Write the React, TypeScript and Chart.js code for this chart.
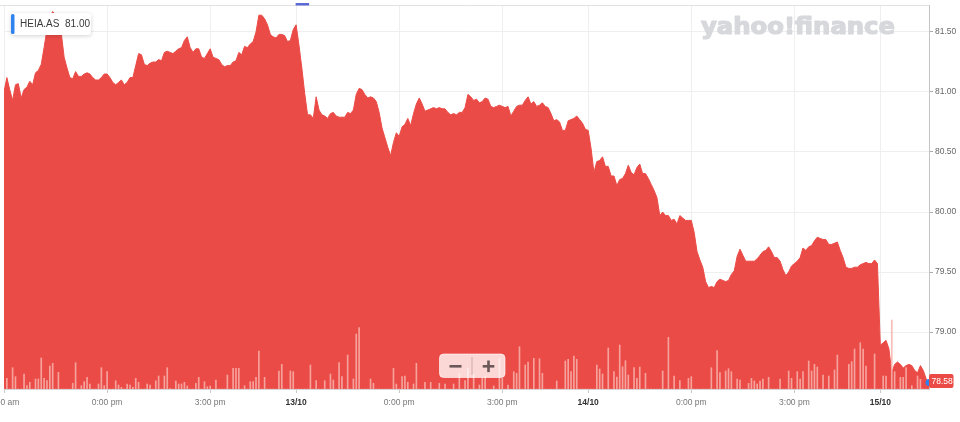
import { useEffect, useRef } from "react";
import { Chart, registerables } from "chart.js";

Chart.register(...registerables);

// ---- data ----
const SYMBOL = "HEIA.AS";
const SYMBOL_VALUE = "81.00";
const LAST_LABEL = "78.58";
const INTERVAL_MIN = 5; // 5-minute bars, trading time 9:00-17:30

const priceDay1 = [
  81.0, 81.12, 81.02, 80.93, 81.06, 81.07, 80.95, 81.02, 81.04, 81.09,
  81.06, 81.16, 81.18, 81.23, 81.37, 81.52, 81.62, 81.67, 81.64, 81.58,
  81.49, 81.29, 81.2, 81.12, 81.11, 81.17, 81.13, 81.13, 81.15, 81.16,
  81.15, 81.12, 81.1, 81.1, 81.12, 81.15, 81.15, 81.12, 81.08, 81.06,
  81.08, 81.1, 81.06, 81.08, 81.12, 81.12, 81.22, 81.32, 81.31, 81.23,
  81.22, 81.24, 81.25, 81.25, 81.27, 81.26, 81.33, 81.34, 81.33, 81.32,
  81.34, 81.36, 81.37, 81.43, 81.46, 81.37, 81.33, 81.36, 81.36, 81.29,
  81.28, 81.32, 81.36, 81.29, 81.28, 81.27, 81.23, 81.21, 81.22, 81.22,
  81.25, 81.26, 81.33, 81.31, 81.38, 81.37, 81.4, 81.42, 81.5, 81.64,
  81.64, 81.61, 81.56, 81.48, 81.46, 81.45, 81.48, 81.48, 81.47, 81.42,
  81.43, 81.52,
];
const priceDay2 = [
  81.56, 81.39, 81.2, 80.99, 80.81, 80.81, 80.78, 80.96, 80.85, 80.81,
  80.8, 80.78, 80.82, 80.83, 80.8, 80.79, 80.79, 80.79, 80.83, 80.82,
  80.85, 80.98, 81.03, 81.02, 80.98, 80.95, 80.96, 80.95, 80.92, 80.83,
  80.7, 80.62, 80.54, 80.47, 80.58, 80.66, 80.63, 80.71, 80.73, 80.78,
  80.72, 80.82, 80.9, 80.95, 80.9, 80.84, 80.85, 80.86, 80.87, 80.86,
  80.87, 80.86, 80.86, 80.83, 80.81, 80.82, 80.81, 80.83, 80.83, 80.87,
  80.98, 80.96, 80.93, 80.94, 80.91, 80.92, 80.95, 80.94, 80.88, 80.87,
  80.88, 80.89, 80.88, 80.87, 80.88, 80.8, 80.84, 80.88, 80.89, 80.89,
  80.93, 80.96, 80.9, 80.92, 80.88, 80.89, 80.91, 80.88, 80.87, 80.82,
  80.76, 80.77, 80.75, 80.68, 80.68, 80.76, 80.77, 80.78, 80.8, 80.77,
  80.74, 80.69,
];
const priceDay3 = [
  80.68, 80.53, 80.33, 80.42, 80.43, 80.46, 80.38, 80.38, 80.3, 80.3,
  80.22, 80.27, 80.28, 80.32, 80.39, 80.33, 80.31, 80.37, 80.4, 80.32,
  80.32, 80.28, 80.23, 80.18, 80.12, 79.97, 80.0, 79.97, 79.97, 79.93,
  79.94, 79.9, 79.97, 79.95, 79.93, 79.93, 79.93, 79.83, 79.67, 79.6,
  79.54, 79.42, 79.37, 79.38, 79.37, 79.42, 79.44, 79.43, 79.42, 79.43,
  79.48, 79.51, 79.63, 79.69, 79.64, 79.59, 79.59, 79.59, 79.59, 79.61,
  79.64, 79.67, 79.68, 79.71, 79.67, 79.62, 79.62, 79.59, 79.52, 79.47,
  79.5, 79.55, 79.57, 79.59, 79.62, 79.7, 79.68, 79.71, 79.72, 79.76,
  79.79, 79.78, 79.77, 79.77, 79.73, 79.73, 79.74, 79.75, 79.68, 79.62,
  79.54, 79.53, 79.53, 79.54, 79.54, 79.56, 79.57, 79.58, 79.57, 79.57,
  79.6, 79.57,
];
const priceDay4 = [
  78.89, 78.91, 78.93, 78.86, 78.66, 78.73, 78.75, 78.73, 78.7, 78.72,
  78.73, 78.72, 78.68, 78.66, 78.72, 78.68, 78.61, 78.58,
];

// volume in thousands of shares, one per 5-minute bar
const volumeK = [
  0, 10.7, 0, 21.3, 12.3, 0, 0, 15, 3.3, 6.7,
  0, 10, 10, 31, 10.7, 8.3, 23, 25.7, 0, 16.7,
  0, 0, 0, 0, 5.7, 26.3, 0, 3.3, 7.3, 11.7,
  5, 0, 0, 5, 21.3, 3.3, 17.3, 0, 0, 8.3,
  4, 1.7, 0, 5, 4, 1.7, 10.7, 6.7, 0, 0,
  5, 4, 0, 8.3, 13, 0, 13, 21.3, 0.5, 0,
  8, 5, 5, 6.7, 3, 0, 0, 5.7, 11.7, 0,
  7.3, 2.3, 3, 0, 9, 0, 0, 0, 14, 0,
  20.7, 20.7, 20.7, 0, 3.3, 0, 7.3, 7.3, 11.7, 38,
  0, 11.7, 0, 0, 0, 0, 18, 24.7, 0, 0,
  18, 17.3, 0, 0, 0, 0, 0, 24, 0, 8.3,
  0, 0, 8.3, 0, 15, 9, 0, 26.3, 12.3, 0,
  34, 0, 10, 55, 61.3, 0, 0, 0, 10, 5.7,
  0, 0, 0, 0, 0, 0, 20.7, 5, 0, 12.3,
  13, 6.7, 0, 5, 25.7, 0, 0, 6.7, 0, 6.7,
  0, 0, 5.7, 0, 5, 0, 0, 5, 0, 15.7,
  0, 8.3, 20.7, 0, 15, 0, 4, 10.7, 13, 0,
  0, 3, 0, 30.7, 10.7, 0, 4, 0, 17.3, 15.7,
  42.3, 0, 24, 27, 0, 30.7, 0, 30.3, 15.7, 0,
  0, 0, 0, 8, 0, 0, 28, 29.7, 17.3, 33,
  29.7, 0, 0, 0, 0, 0, 0, 24, 20, 15,
  0, 41, 0, 17.3, 12, 44, 22.3, 28.3, 14, 0,
  21.3, 10.7, 22, 0, 15.7, 0, 0, 0, 0, 0,
  18, 0, 51.7, 0, 13, 0, 8.3, 0, 0, 10.7,
  12.3, 0, 0, 0, 0, 0, 0, 21.3, 0, 38.3,
  16.3, 0, 18, 20.3, 17.3, 0, 10, 9, 0, 0,
  5.7, 10.7, 8, 5, 8, 10, 0, 11.7, 0, 0,
  0, 10, 0, 0, 18, 10.7, 0, 17.3, 10, 17.3,
  0, 28, 18, 24.7, 22, 0, 14, 0, 13, 0,
  19, 34, 0, 0, 0, 24.7, 27.3, 40, 0, 46.3,
  40, 23, 0, 0, 35, 0, 0, 13, 13, 0,
  69, 17.3, 0, 11.7, 11.7, 21.3, 0, 3.3, 0, 13,
  9.7, 0, 0, 0,
];

const xTickMinutes = [0, 180, 360, 510, 690, 870, 1020, 1200, 1380, 1530];
const xTickLabels = ["9:00 am", "0:00 pm", "3:00 pm", "13/10", "0:00 pm", "3:00 pm", "14/10", "0:00 pm", "3:00 pm", "15/10"];
const xTickIsDay = [false, false, false, true, false, false, true, false, false, true];
const yTicks = [79, 79.5, 80, 80.5, 81, 81.5];
const Y_MIN = 78.525;
const Y_MAX = 81.725;
const VOL_MAX = 384;
const EVENT_MINUTE = 510;

const FONT = '"Liberation Sans", Arial, Helvetica, sans-serif';
const RED = "#eb4b46";

export default function App() {
  const ref = useRef<HTMLCanvasElement | null>(null);

  useEffect(() => {
    const canvas = ref.current;
    if (!canvas) return;
    Chart.defaults.font.family = FONT;

    const prices = [...priceDay1, ...priceDay2, ...priceDay3, ...priceDay4];
    const pricePts = prices.map((p, i) => ({ x: i * INTERVAL_MIN, y: p }));
    const volPts = volumeK.map((v, i) => ({ x: i * INTERVAL_MIN, y: v }));
    const lastIdx = prices.length - 1;
    const lastMin = lastIdx * INTERVAL_MIN;
    const lastPrice = prices[lastIdx];

    const decor = {
      id: "decor",
      beforeDatasetsDraw(chart: any) {
        const { ctx } = chart;
        // watermark
        ctx.save();
        ctx.fillStyle = "#d6d8dc";
        ctx.strokeStyle = "#d6d8dc";
        ctx.lineWidth = 1.2;
        ctx.lineJoin = "round";
        ctx.font = `bold 23px "DejaVu Sans", ${FONT}`;
        ctx.textBaseline = "alphabetic";
        const txt = "yahoo!finance";
        const w = ctx.measureText(txt).width;
        ctx.translate(701, 33.5);
        ctx.scale(194 / w, 1);
        ctx.fillText(txt, 0, 0);
        ctx.strokeText(txt, 0, 0);
        ctx.restore();
      },
      afterDraw(chart: any) {
        const { ctx, chartArea, scales } = chart;
        // top border
        ctx.save();
        ctx.strokeStyle = "#e2e2e2";
        ctx.lineWidth = 1;
        ctx.beginPath();
        ctx.moveTo(0, chartArea.top + 0.5);
        ctx.lineTo(chartArea.right, chartArea.top + 0.5);
        ctx.stroke();
        // event marker at top
        const ex = scales.x.getPixelForValue(EVENT_MINUTE);
        ctx.fillStyle = "#5b6bd6";
        ctx.fillRect(ex - 0.5, 3, 13.5, 2.5);
        // legend box
        ctx.save();
        ctx.shadowColor = "rgba(0,0,0,0.18)";
        ctx.shadowBlur = 4;
        ctx.shadowOffsetY = 1;
        ctx.fillStyle = "#ffffff";
        ctx.beginPath();
        ctx.roundRect(11, 13, 80, 22, 3);
        ctx.fill();
        ctx.restore();
        ctx.fillStyle = "#2f83ee";
        ctx.beginPath();
        ctx.roundRect(11, 14, 3.5, 20, 1.5);
        ctx.fill();
        ctx.fillStyle = "#3a3a3a";
        ctx.font = `10px ${FONT}`;
        ctx.textBaseline = "middle";
        ctx.textAlign = "left";
        ctx.fillText(`${SYMBOL}  ${SYMBOL_VALUE}`, 20, 24.5);
        // zoom buttons
        ctx.fillStyle = "rgba(255,255,255,0.78)";
        ctx.strokeStyle = "rgba(255,255,255,0.6)";
        ctx.beginPath();
        ctx.roundRect(439.5, 354, 65.5, 23.5, 4);
        ctx.fill();
        ctx.stroke();
        ctx.strokeStyle = "rgba(205,165,165,0.9)";
        ctx.beginPath();
        ctx.moveTo(472, 357);
        ctx.lineTo(472, 375);
        ctx.stroke();
        ctx.fillStyle = "#6b5858";
        ctx.fillRect(449.5, 365, 12, 2.6);
        ctx.fillRect(482.7, 365, 11.6, 2.6);
        ctx.fillRect(487.2, 360.5, 2.6, 11.6);
        // last price label
        const ly = scales.y.getPixelForValue(lastPrice) - 1.5;
        ctx.fillStyle = RED;
        ctx.beginPath();
        ctx.roundRect(chartArea.right, ly - 7, 24.5, 14, 2);
        ctx.fill();
        ctx.fillStyle = "#ffffff";
        ctx.font = `8.5px ${FONT}`;
        ctx.textBaseline = "middle";
        ctx.fillText(LAST_LABEL, chartArea.right + 2.5, ly + 0.5);
        ctx.restore();
      },
    };

    const chart = new Chart(canvas, {
      type: "line",
      data: {
        datasets: [
          {
            type: "line",
            data: [{ x: lastMin, y: lastPrice }],
            pointRadius: 3.5,
            pointBackgroundColor: "#2c80ee",
            pointBorderWidth: 0,
            showLine: false,
            order: -1,
            clip: false,
          } as any,
          {
            type: "bar",
            data: volPts,
            yAxisID: "v",
            backgroundColor: "rgba(248,178,172,0.85)",
            barThickness: 1,
            grouped: false,
            order: 0,
          } as any,
          {
            type: "line",
            data: pricePts,
            borderColor: RED,
            backgroundColor: RED,
            borderWidth: 1,
            fill: "start",
            pointRadius: 0,
            tension: 0,
            order: 1,
          } as any,
        ],
      },
      options: {
        animation: false,
        responsive: false,
        devicePixelRatio: 1,
        layout: { padding: { left: 4, top: 5, right: 0, bottom: 0 } },
        plugins: { legend: { display: false }, tooltip: { enabled: false } },
        scales: {
          x: {
            type: "linear",
            min: 0,
            max: lastMin,
            offset: false,
            afterBuildTicks: (s: any) => {
              s.ticks = xTickMinutes.map((v) => ({ value: v }));
            },
            afterFit: (s: any) => {
              s.height = 33;
              s.paddingLeft = 0;
              s.paddingRight = 0;
            },
            grid: { color: "#efefef", tickLength: 4, tickColor: "#c8c8c8", offset: false },
            border: { color: "#d4d4d4" },
            ticks: {
              autoSkip: false,
              maxRotation: 0,
              padding: 5,
              font: (c: any) => ({ size: 8.5, weight: xTickIsDay[c.index] ? "bold" : "normal" }),
              color: (c: any) => (xTickIsDay[c.index] ? "#333333" : "#777777"),
              callback: (_v: any, i: number) => xTickLabels[i],
            },
          },
          y: {
            type: "linear",
            position: "right",
            min: Y_MIN,
            max: Y_MAX,
            afterBuildTicks: (s: any) => {
              s.ticks = yTicks.map((v) => ({ value: v }));
            },
            afterFit: (s: any) => {
              s.width = 31;
              s.paddingTop = 0;
              s.paddingBottom = 0;
            },
            grid: { color: "#efefef", tickLength: 4, tickColor: "#aaaaaa" },
            border: { color: "#c4c4c4" },
            ticks: {
              padding: 2,
              font: { size: 8.5 },
              color: "#666666",
              callback: (v: any) => Number(v).toFixed(2),
            },
          },
          v: { display: false, min: 0, max: VOL_MAX },
        },
      } as any,
      plugins: [decor],
    });
    return () => chart.destroy();
  }, []);

  return (
    <div style={{ position: "fixed", left: 0, top: 0, width: 960, height: 422, background: "#fff" }}>
      <canvas ref={ref} width={960} height={422} style={{ display: "block" }} />
    </div>
  );
}
